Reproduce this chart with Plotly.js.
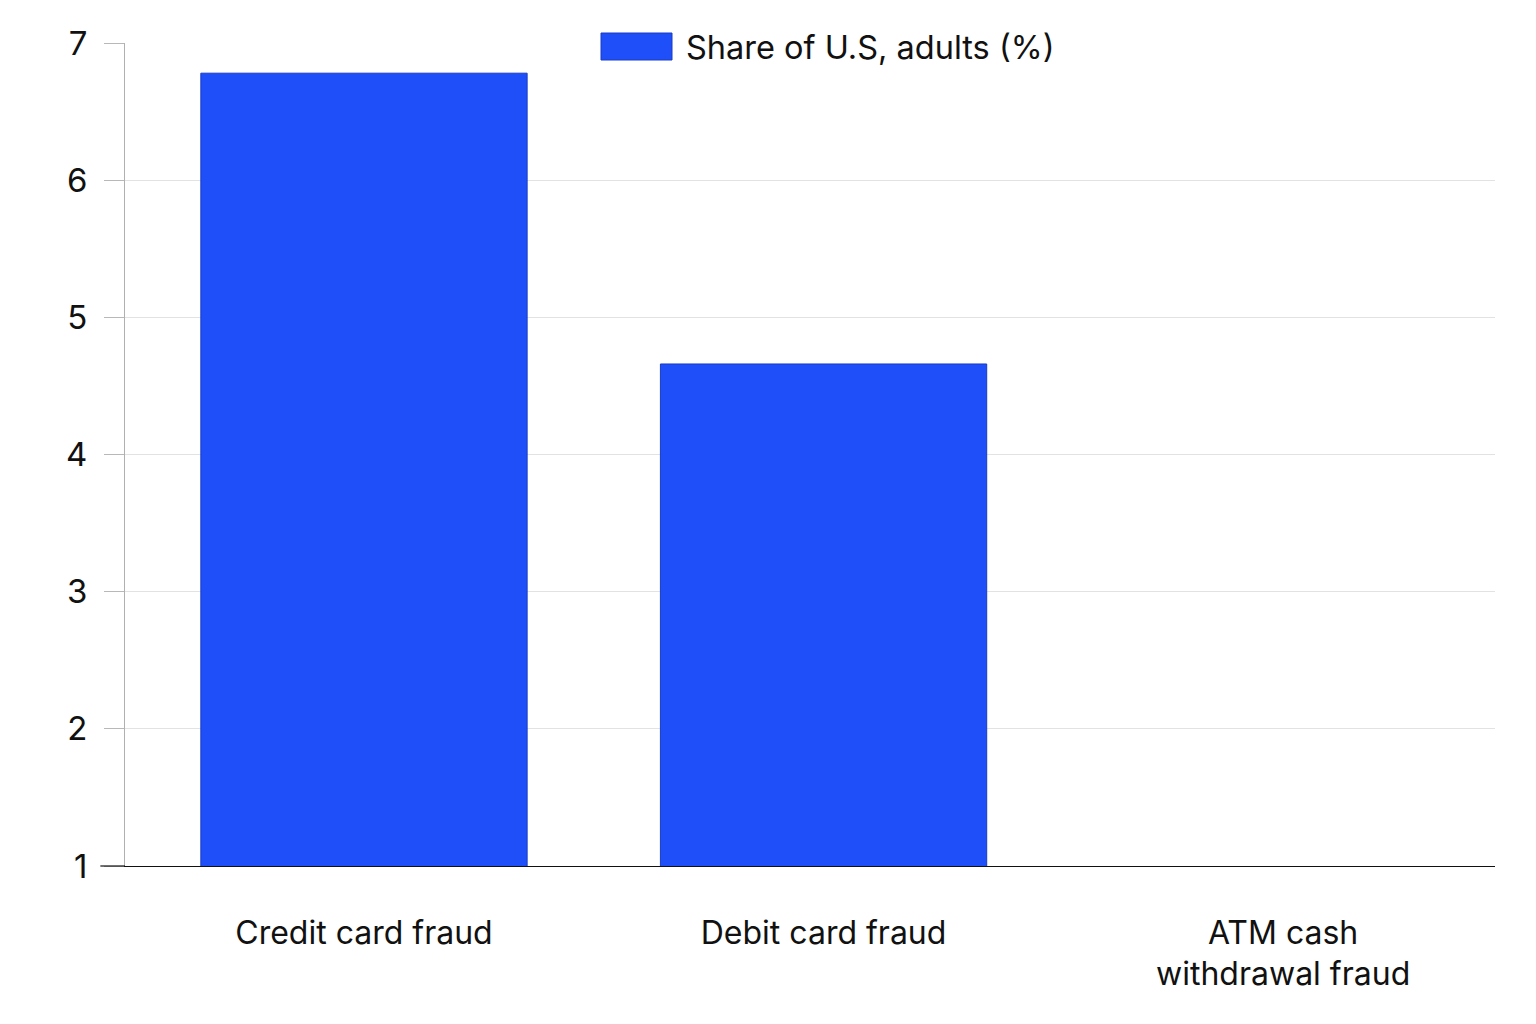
<!DOCTYPE html>
<html>
<head>
<meta charset="utf-8">
<script src="https://cdn.plot.ly/plotly-3.0.1.min.js"></script>
<style>html,body{margin:0;padding:0;background:#fff;}#chart{width:1536px;height:1024px;}</style>
</head>
<body>
<div id="chart"></div>
<script>
const categories = ["Credit card fraud", "Debit card fraud", "ATM cash<br>withdrawal fraud"];
const shareValues = [6.78, 4.66, 0.5];
const seriesName = "Share of U.S, adults (%)";
const yTicks = [1, 2, 3, 4, 5, 6, 7];

const FONT = "Inter, 'Noto Sans', sans-serif";
const barColor = "#1f4ff8";

const trace = {
  type: "bar",
  x: categories,
  y: shareValues,
  name: seriesName,
  marker: { color: barColor, line: { color: "#1a3cc4", width: 1 } },
  showlegend: false,
  hoverinfo: "x+y"
};

const layout = {
  width: 1536,
  height: 1024,
  margin: { l: 125, r: 41, t: 43, b: 158 },
  paper_bgcolor: "#ffffff",
  plot_bgcolor: "#ffffff",
  font: { family: FONT, size: 33, color: "#111111" },
  bargap: 0.29,
  xaxis: {
    type: "category",
    range: [-0.52, 2.461],
    showgrid: false,
    showline: true,
    linecolor: "#111111",
    linewidth: 1.2,
    ticks: "",
    ticklabelstandoff: 38,
    tickfont: { family: FONT, size: 32, color: "#111111" }
  },
  yaxis: {
    range: [1, 7],
    tickvals: yTicks,
    ticktext: yTicks.map(String),
    showgrid: true,
    gridcolor: "#e2e2e2",
    gridwidth: 1,
    showline: true,
    linecolor: "#b0b0b0",
    linewidth: 1,
    ticks: "outside",
    ticklen: 20,
    tickcolor: "#b8b8b8",
    ticklabelstandoff: 10,
    zeroline: false,
    tickfont: { family: FONT, size: 33, color: "#111111" }
  },
  shapes: [
    { type: "line", xref: "paper", yref: "paper", x0: -0.018, x1: 0, y0: 0, y1: 0,
      line: { color: "#111111", width: 1.2 } },
    { type: "rect", xref: "paper", yref: "paper",
      x0: (601 - 125) / 1370, x1: (672 - 125) / 1370,
      y0: (866 - 60) / 823, y1: (866 - 33) / 823,
      fillcolor: barColor, line: { color: "#1a3cc4", width: 1 } }
  ],
  annotations: [
    { xref: "paper", yref: "paper", x: (684 - 125) / 1370, y: (866 - 47) / 823,
      xanchor: "left", yanchor: "middle", showarrow: false,
      text: seriesName, font: { family: FONT, size: 32.5, color: "#111111" },
      bgcolor: "#ffffff" }
  ]
};

Plotly.newPlot("chart", [trace], layout, { displayModeBar: false, staticPlot: true });
</script>
</body>
</html>
